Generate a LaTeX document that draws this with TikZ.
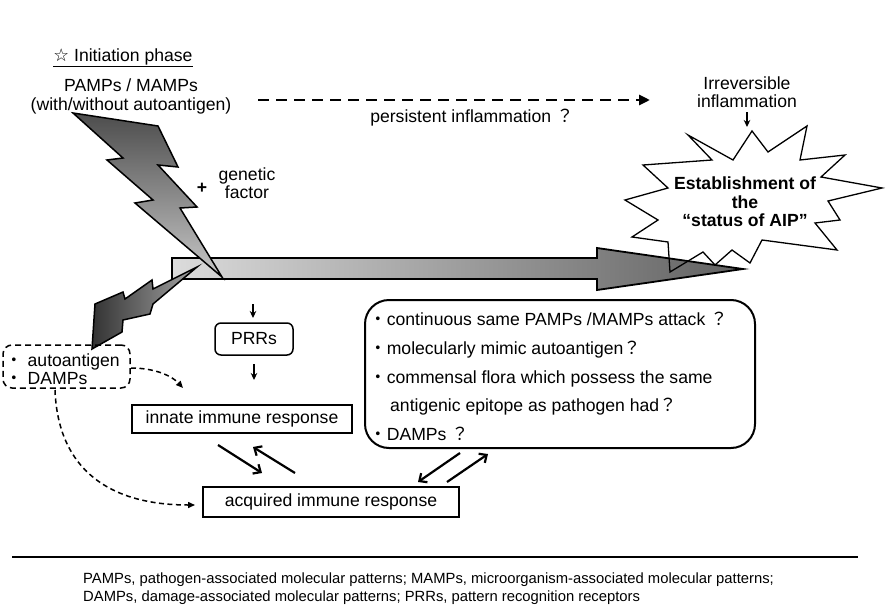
\documentclass[tikz,border=0pt]{standalone}
\usepackage{fontspec}
\setmainfont{Liberation Sans}
\newfontfamily\cjk{Noto Sans CJK JP}
\newfontfamily\symf{DejaVu Sans}
\usetikzlibrary{arrows.meta,calc}
\newcommand{\qm}{{\cjk ？}}
\newcommand{\bul}{{\cjk ・}}
\begin{document}
\begin{tikzpicture}[x=1pt,y=-1pt,
  every node/.style={inner sep=0pt, font=\fontsize{17.6}{21}\selectfont},
  txt/.style={anchor=base},
  boxA/.style={draw, line width=2pt},
  smallarrow/.style={line width=1.8pt, -{Stealth[length=7pt,width=6.5pt]}},
  diagarrow/.style={line width=2.2pt, -{Straight Barb[length=6pt,width=11pt]}},
  bigdash/.style={line width=2.8pt, dash pattern=on 11pt off 7pt, -{Triangle[length=11pt,width=10pt]}},
  thindash/.style={line width=1.5pt, dash pattern=on 5pt off 3.5pt, -{Triangle[length=7pt,width=6pt]}},
  boltstyle/.style={draw=black, line width=1.5pt},
]
\useasboundingbox (0,0) rectangle (886,605);
\fill[white] (0,0) rectangle (886,605);

% title and top texts
\node[txt] (title) at (123,61) {\underline{{\symf ☆} Initiation phase}};
\node[txt] (pamps) at (131,91) {PAMPs / MAMPs};
\node[txt] (with) at (131,110) {(with/without autoantigen)};
\node[txt] (persist) at (472,122) {persistent inflammation \qm};
\node (plus) at (202,188) {\textbf{+}};
\node[txt] (gen1) at (247,180) {genetic};
\node[txt] (gen2) at (247,198) {factor};
\node[txt] (irr1) at (747,89) {Irreversible};
\node[txt] (irr2) at (747,107) {inflammation};

% dashed long arrow
\coordinate (dA) at (258,100);
\coordinate (dB) at (650,100);
\draw[bigdash] (dA) -- (dB);

% small arrow to star
\coordinate (irrA) at (747,112);
\coordinate (irrB) at (747,127);
\draw[smallarrow] (irrA) -- (irrB);

% star background
\fill[white] (752,131) -- (768,152) -- (807,126) -- (800,160) -- (845,155) -- (821,177) -- (882,188) -- (828,201) -- (840,220) -- (815,223) -- (837,250) -- (762,240) -- (750,263) -- (732,250) -- (715,265) -- (703,252) -- (670,272) -- (668,242) -- (632,237) -- (658,220) -- (625,200) -- (668,188) -- (643,165) -- (712,160) -- (688,135) -- (733,160) -- cycle;

% main arrow
\shadedraw[draw=black, line width=1.8pt, left color=black!14, right color=black!62]
  (172,258) -- (597,258) -- (597,248) -- (743,269) -- (597,290) -- (597,279) -- (172,279) -- cycle;

% star outline
\draw[line width=1.3pt, line join=miter] (752,131) -- (768,152) -- (807,126) -- (800,160) -- (845,155) -- (821,177) -- (882,188) -- (828,201) -- (840,220) -- (815,223) -- (837,250) -- (762,240) -- (750,263) -- (732,250) -- (715,265) -- (703,252) -- (670,272) -- (668,242) -- (632,237) -- (658,220) -- (625,200) -- (668,188) -- (643,165) -- (712,160) -- (688,135) -- (733,160) -- cycle;
\node[txt, font=\bfseries\fontsize{17.6}{21}\selectfont] (aip1) at (745,189) {Establishment of};
\node[txt, font=\bfseries\fontsize{17.6}{21}\selectfont] (aip2) at (745,208) {the};
\node[txt, font=\bfseries\fontsize{17.6}{21}\selectfont] (aip3) at (745,226) {“status of AIP”};

% lightning bolts
\shadedraw[boltstyle, top color=black!70, bottom color=black!22]
  (73,113) -- (158,126) -- (178,167) -- (158,165) -- (197,207) -- (180,208) -- (222,277)
  -- (135,203) -- (153,200) -- (107,160) -- (123,158) -- cycle;
\shadedraw[boltstyle, left color=black!80, right color=black!35]
  (95,304) -- (123,292) -- (125,299) -- (152,280) -- (153,289) -- (197,267)
  -- (153,304) -- (150,314) -- (123,320) -- (122,332) -- (92,349) -- cycle;

% dashed box
\node[draw, line width=1.5pt, dash pattern=on 6pt off 4pt, rounded corners=9pt,
  minimum width=127pt, minimum height=43pt] (dbox) at (66.5,366.5) {};
\node[anchor=base west] (auto) at (5,366) {\bul{} autoantigen};
\node[anchor=base west] (damps) at (5,384) {\bul{} DAMPs};

% PRRs
\node[draw, line width=1.5pt, rounded corners=6pt, minimum width=78pt, minimum height=32pt] (prr) at (254,339) {PRRs};
\coordinate (p1s) at (253,304);
\coordinate (p1e) at (253,318);
\draw[smallarrow] (p1s) -- (p1e);
\coordinate (p2s) at (254,364);
\coordinate (p2e) at (254,380);
\draw[smallarrow] (p2s) -- (p2e);

% innate and acquired
\node[boxA, minimum width=220pt, minimum height=28pt] (innate) at (242,419) {innate immune response};
\node[boxA, minimum width=256pt, minimum height=30pt] (acq) at (331,502) {acquired immune response};

\coordinate (iaS) at (218,445);
\coordinate (iaE) at (262,473);
\draw[diagarrow] (iaS) -- (iaE);
\coordinate (aiS) at (295,473);
\coordinate (aiE) at (253,447);
\draw[diagarrow] (aiS) -- (aiE);

% big rounded box
\node[draw, line width=2pt, rounded corners=24pt, minimum width=390pt, minimum height=148pt] (bigbox) at (560,374) {};
\node[anchor=base west] (l1) at (369,325) {\bul continuous same PAMPs /MAMPs attack \qm};
\node[anchor=base west] (l2) at (369,354) {\bul molecularly mimic autoantigen\qm};
\node[anchor=base west] (l3) at (369,383) {\bul commensal flora which possess the same};
\node[anchor=base west] (l4) at (390,411) {antigenic epitope as pathogen had\qm};
\node[anchor=base west] (l5) at (369,440) {\bul DAMPs \qm};

\coordinate (baS) at (460,453);
\coordinate (baE) at (418,482);
\draw[diagarrow] (baS) -- (baE);
\coordinate (abS) at (447,482);
\coordinate (abE) at (488,454);
\draw[diagarrow] (abS) -- (abE);

% dashed curves
\coordinate (c1s) at (131,368);
\coordinate (c1e) at (183,388);
\draw[thindash] (c1s) .. controls (155,368) and (172,376) .. (c1e);
\coordinate (c2s) at (55,390);
\coordinate (c2e) at (195,505);
\draw[thindash] (c2s) .. controls (58,470) and (110,505) .. (c2e);

% footnote
\coordinate (sepA) at (12,557);
\coordinate (sepB) at (858,557);
\draw[line width=1.2pt] (sepA) -- (sepB);
\node[anchor=base west, font=\fontsize{14.8}{18}\selectfont] (fn1) at (83,583) {PAMPs, pathogen-associated molecular patterns; MAMPs, microorganism-associated molecular patterns;};
\node[anchor=base west, font=\fontsize{14.8}{18}\selectfont] (fn2) at (83,601) {DAMPs, damage-associated molecular patterns; PRRs, pattern recognition receptors};
\end{tikzpicture}
\end{document}
